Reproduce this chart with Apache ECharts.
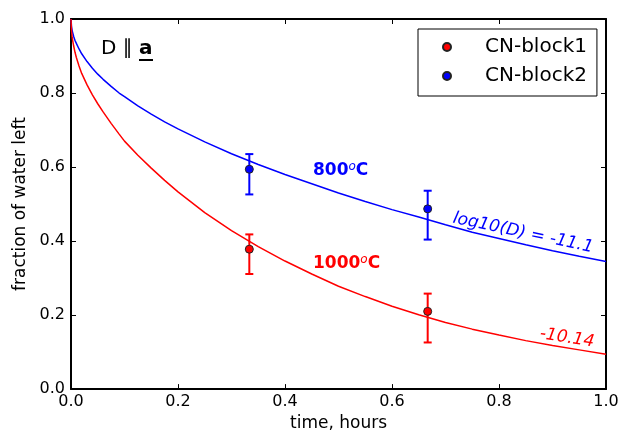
<!DOCTYPE html>
<html>
<head>
<meta charset="utf-8">
<script src="https://cdn.jsdelivr.net/npm/echarts@6/dist/echarts.min.js"></script>
<style>
html,body{margin:0;padding:0;background:#fff;}
#chart{width:629px;height:437px;}
</style>
</head>
<body>
<div id="chart"></div>
<script>
// ---- data ----
const timeGrid = [0, 0.001, 0.002, 0.003, 0.005, 0.0075, 0.01, 0.015, 0.02, 0.03, 0.04, 0.05, 0.06, 0.075, 0.09, 0.1,
  0.125, 0.15, 0.175, 0.2, 0.25, 0.3, 0.35, 0.4, 0.45, 0.5, 0.55, 0.6, 0.65, 0.7, 0.75, 0.8, 0.85, 0.9, 0.95, 1.0];
const curve800 = [1.0, 0.979, 0.970, 0.964, 0.953, 0.942, 0.934, 0.919, 0.906, 0.885, 0.867, 0.851, 0.837, 0.818, 0.800, 0.790,
  0.765, 0.743, 0.722, 0.703, 0.668, 0.636, 0.607, 0.580, 0.555, 0.530, 0.507, 0.485, 0.465, 0.444, 0.424, 0.407, 0.390, 0.374, 0.359, 0.345];
const curve1000 = [1.0, 0.967, 0.953, 0.943, 0.927, 0.910, 0.896, 0.873, 0.853, 0.822, 0.795, 0.771, 0.749, 0.718, 0.689, 0.670,
  0.632, 0.597, 0.564, 0.533, 0.477, 0.428, 0.385, 0.346, 0.311, 0.278, 0.250, 0.224, 0.201, 0.180, 0.162, 0.146, 0.131, 0.118, 0.106, 0.094];

const sampleTimes = [0.3333, 0.6667];
const block1Values = [0.378, 0.210];
const block1Lower = [0.311, 0.126];
const block1Upper = [0.418, 0.258];
const block2Values = [0.594, 0.487];
const block2Lower = [0.526, 0.404];
const block2Upper = [0.635, 0.536];

const RED = '#ff0000', BLUE = '#0000ff';
const FONT = 'DejaVu Sans';

function pairs(xs, ys) { return xs.map((x, i) => [x, ys[i]]); }
function errRows(xs, lo, hi) { return xs.map((x, i) => [x, lo[i], hi[i]]); }

function errorBarRenderer(color) {
  return function (params, api) {
    const x = api.value(0), lo = api.value(1), hi = api.value(2);
    const pHi = api.coord([x, hi]);
    const pLo = api.coord([x, lo]);
    const cap = 4;
    const st = { stroke: color, lineWidth: 2 };
    return {
      type: 'group',
      children: [
        { type: 'line', shape: { x1: pHi[0], y1: pHi[1], x2: pLo[0], y2: pLo[1] }, style: st },
        { type: 'line', shape: { x1: pHi[0] - cap, y1: pHi[1], x2: pHi[0] + cap, y2: pHi[1] }, style: st },
        { type: 'line', shape: { x1: pLo[0] - cap, y1: pLo[1], x2: pLo[0] + cap, y2: pLo[1] }, style: st }
      ]
    };
  };
}

const axisCommon = {
  min: 0, max: 1, interval: 0.2,
  axisLine: { show: true, onZero: false, lineStyle: { color: '#000', width: 2 } },
  axisTick: { show: true, inside: true, length: 5, lineStyle: { color: '#000', width: 1 } },
  splitLine: { show: false }
};

const chart = echarts.init(document.getElementById('chart'), null, { renderer: 'canvas' });
chart.setOption({
  backgroundColor: '#fff',
  animation: false,
  textStyle: { fontFamily: FONT },
  grid: { left: 71, right: 23, top: 19, bottom: 44, containLabel: false },
  xAxis: [
    Object.assign({}, axisCommon, {
      type: 'value', position: 'bottom',
      name: 'time, hours', nameLocation: 'middle', nameGap: 25,
      nameTextStyle: { fontSize: 17, color: '#000', fontFamily: FONT },
      axisLabel: { show: true, color: '#000', fontSize: 16, fontFamily: FONT, margin: 5,
        formatter: v => v.toFixed(1) }
    }),
    Object.assign({}, axisCommon, {
      type: 'value', position: 'top', axisLabel: { show: false }
    })
  ],
  yAxis: [
    Object.assign({}, axisCommon, {
      type: 'value', position: 'left',
      name: 'fraction of water left', nameLocation: 'middle', nameGap: 38,
      nameTextStyle: { fontSize: 17, color: '#000', fontFamily: FONT },
      axisLabel: { show: true, color: '#000', fontSize: 16, fontFamily: FONT, margin: 6,
        formatter: v => v.toFixed(1) }
    }),
    Object.assign({}, axisCommon, {
      type: 'value', position: 'right', axisLabel: { show: false }
    })
  ],
  legend: {
    orient: 'vertical',
    left: 418, top: 29,
    padding: [8, 10, 10, 24],
    itemGap: 9,
    itemWidth: 8, itemHeight: 8,
    borderColor: '#000', borderWidth: 1, borderRadius: 0,
    backgroundColor: '#fff',
    icon: 'circle',
    textStyle: { fontSize: 20, color: '#000', fontFamily: FONT, padding: [0, 0, 0, 29], lineHeight: 20 },
    data: ['CN-block1', 'CN-block2']
  },
  series: [
    {
      name: 'fit800', type: 'line', data: pairs(timeGrid, curve800),
      showSymbol: false, smooth: false, lineStyle: { color: BLUE, width: 1.5 }, z: 2, silent: true
    },
    {
      name: 'fit1000', type: 'line', data: pairs(timeGrid, curve1000),
      showSymbol: false, smooth: false, lineStyle: { color: RED, width: 1.5 }, z: 2, silent: true
    },
    {
      name: 'err1', type: 'custom', data: errRows(sampleTimes, block1Lower, block1Upper),
      renderItem: errorBarRenderer(RED), z: 3, silent: true
    },
    {
      name: 'err2', type: 'custom', data: errRows(sampleTimes, block2Lower, block2Upper),
      renderItem: errorBarRenderer(BLUE), z: 3, silent: true
    },
    {
      name: 'CN-block1', type: 'scatter', data: pairs(sampleTimes, block1Values),
      symbol: 'circle', symbolSize: 8,
      itemStyle: { color: RED, borderColor: '#222', borderWidth: 1, opacity: 1 }, z: 4
    },
    {
      name: 'CN-block2', type: 'scatter', data: pairs(sampleTimes, block2Values),
      symbol: 'circle', symbolSize: 8,
      itemStyle: { color: BLUE, borderColor: '#222', borderWidth: 1, opacity: 1 }, z: 4
    }
  ],
  graphic: [
    {
      type: 'text', x: 101, y: 49, z: 10,
      style: {
        text: '{n|D ∥ }{b|a}',
        verticalAlign: 'middle', align: 'left',
        rich: {
          n: { fontSize: 20, fontFamily: FONT, fill: '#000', color: '#000' },
          b: { fontSize: 20, fontFamily: FONT, fontWeight: 'bold', fill: '#000', color: '#000' }
        }
      }
    },
    { type: 'line', z: 10, shape: { x1: 139, y1: 60, x2: 153, y2: 60 }, style: { stroke: '#000', lineWidth: 2 } },
    {
      type: 'text', x: 313, y: 171, z: 10,
      style: {
        text: '{b|800}{o|o}{b|C}', align: 'left', verticalAlign: 'middle',
        rich: {
          b: { fontSize: 17, fontWeight: 'bold', fontFamily: FONT, fill: BLUE, color: BLUE, lineHeight: 20 },
          o: { fontSize: 12, fontStyle: 'italic', fontFamily: FONT, fill: BLUE, color: BLUE, verticalAlign: 'top', lineHeight: 20 }
        }
      }
    },
    {
      type: 'text', x: 313, y: 264, z: 10,
      style: {
        text: '{b|1000}{o|o}{b|C}', align: 'left', verticalAlign: 'middle',
        rich: {
          b: { fontSize: 17, fontWeight: 'bold', fontFamily: FONT, fill: RED, color: RED, lineHeight: 20 },
          o: { fontSize: 12, fontStyle: 'italic', fontFamily: FONT, fill: RED, color: RED, verticalAlign: 'top', lineHeight: 20 }
        }
      }
    },
    {
      type: 'text', x: 523, y: 233, z: 10, rotation: -12 * Math.PI / 180,
      style: {
        text: 'log10(D) = -11.1', align: 'center', verticalAlign: 'middle',
        font: 'italic 17px "DejaVu Sans"', fill: BLUE
      }
    },
    {
      type: 'text', x: 567, y: 338, z: 10, rotation: -9 * Math.PI / 180,
      style: {
        text: '-10.14', align: 'center', verticalAlign: 'middle',
        font: 'italic 17px "DejaVu Sans"', fill: RED
      }
    }
  ]
});
</script>
</body>
</html>
